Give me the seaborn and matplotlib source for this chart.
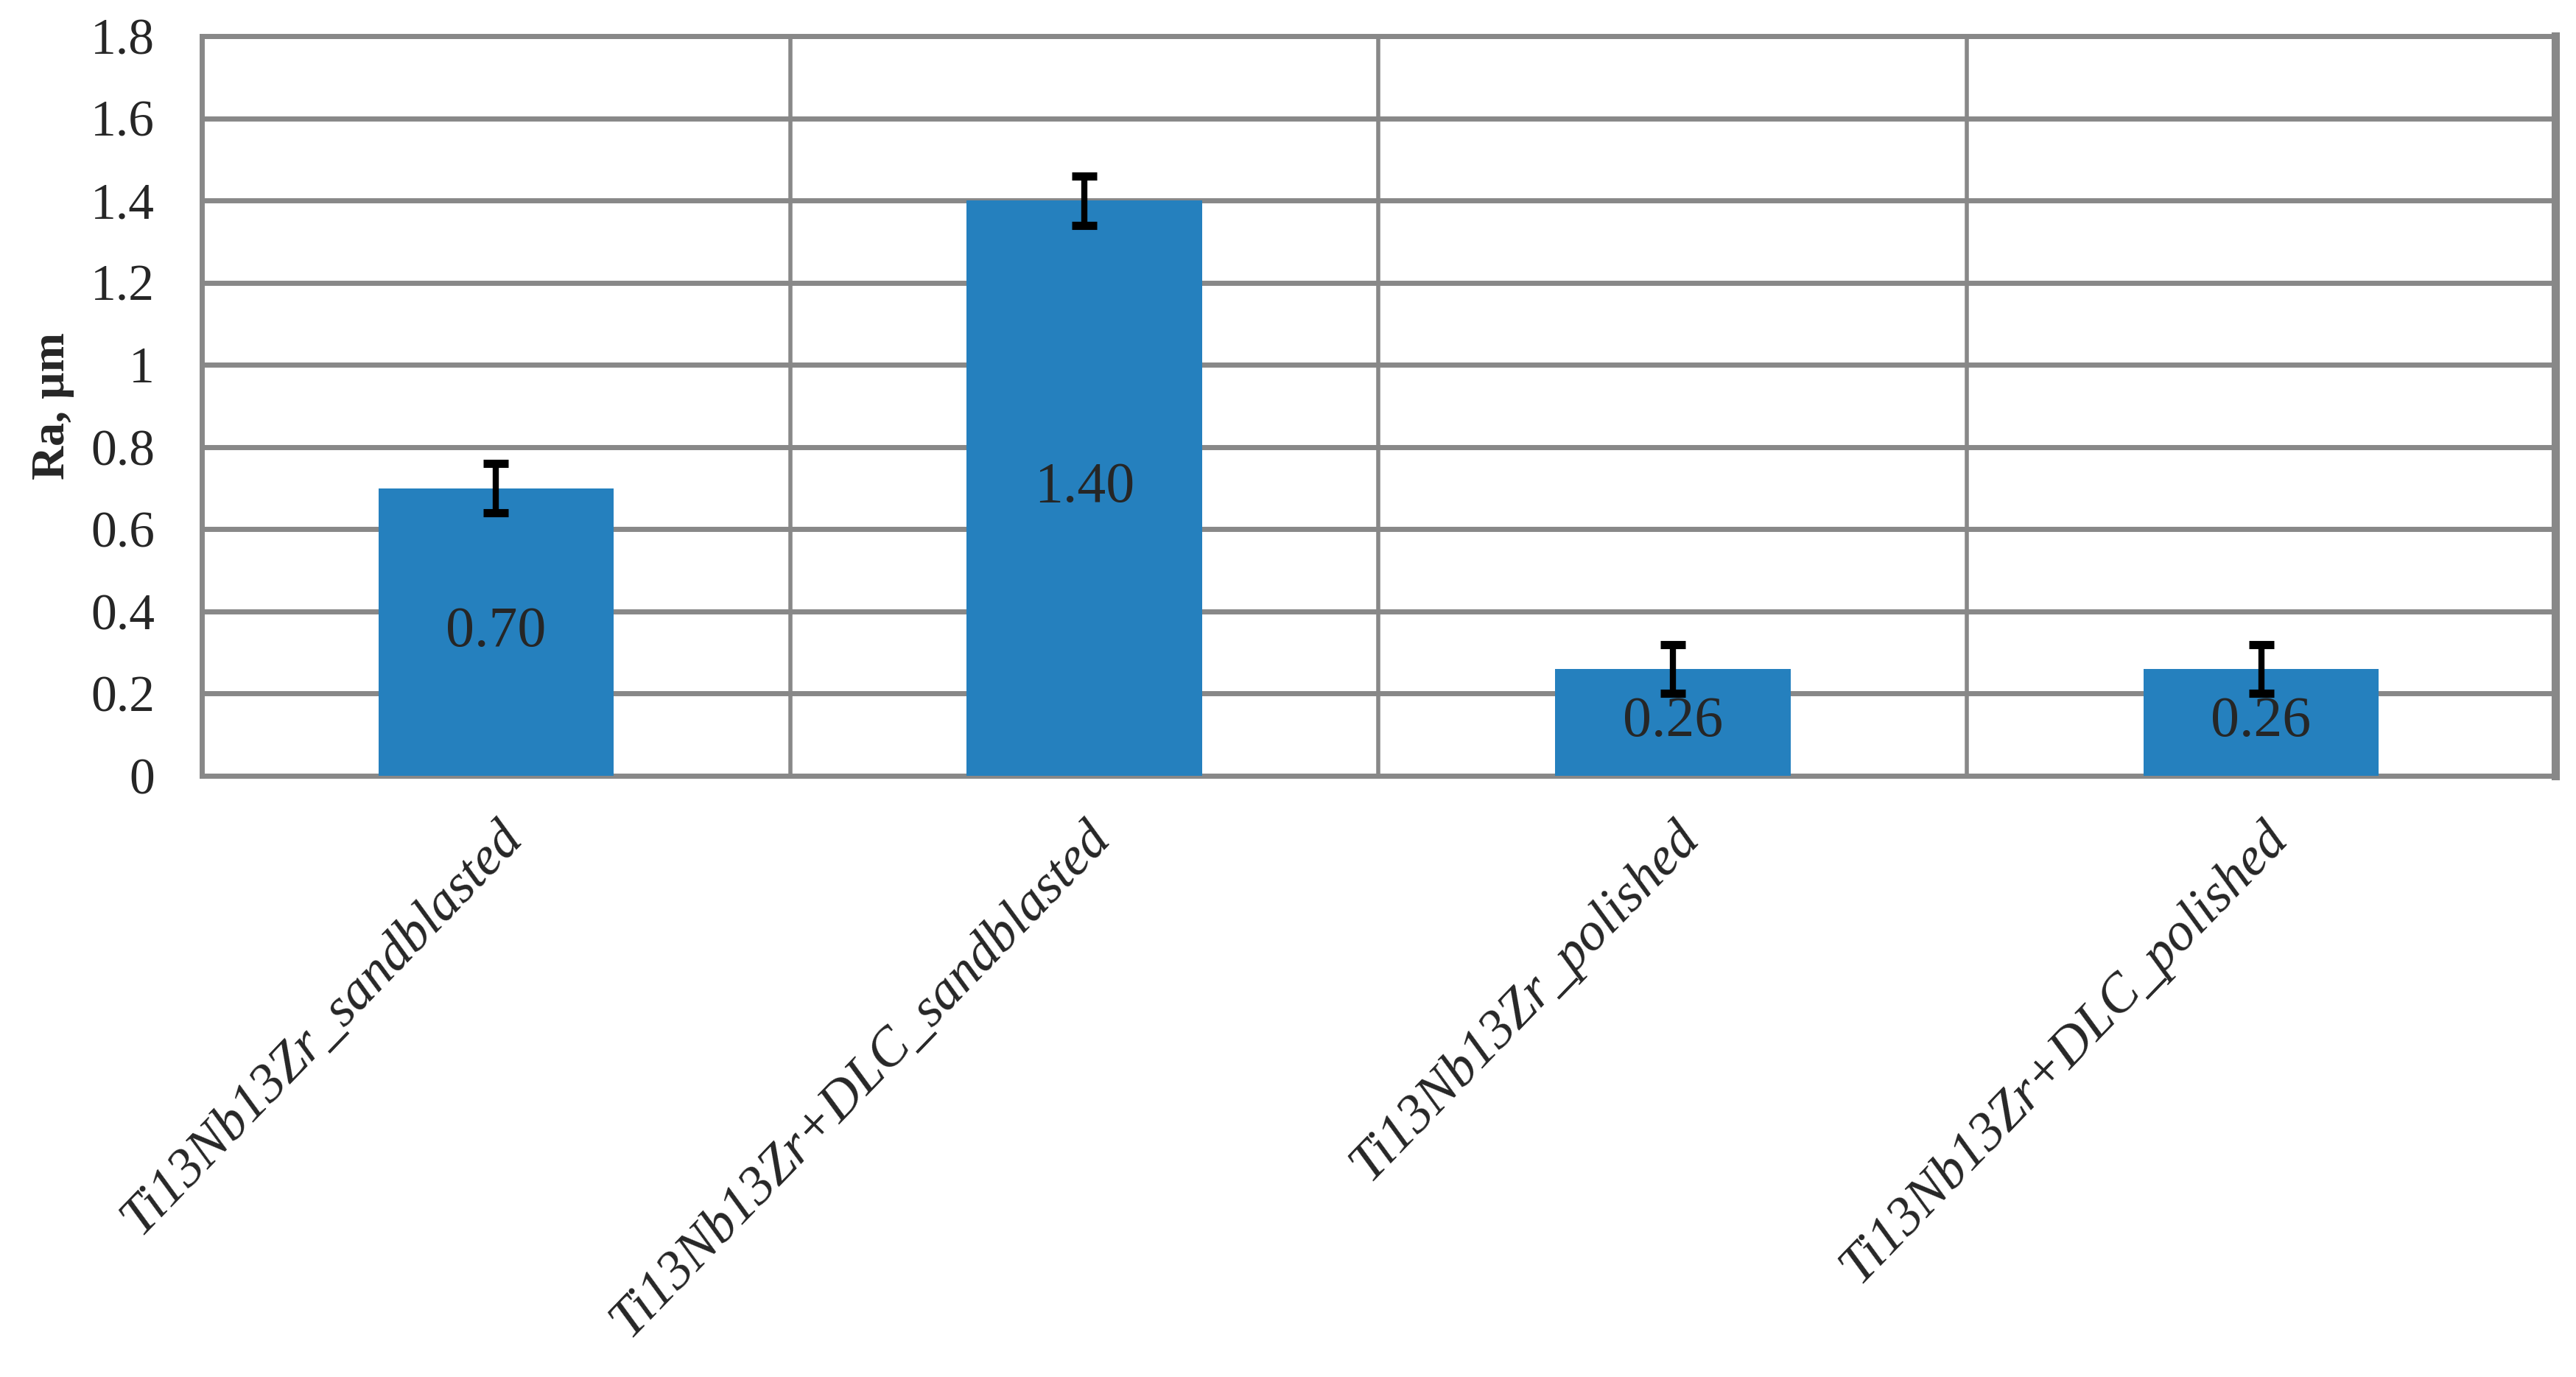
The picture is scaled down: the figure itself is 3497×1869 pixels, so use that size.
import pandas as pd
import numpy as np
import matplotlib
matplotlib.use("Agg")
import matplotlib.pyplot as plt
import seaborn as sns

# Data
samples = ["Ti13Nb13Zr_sandblasted", "Ti13Nb13Zr+DLC_sandblasted",
           "Ti13Nb13Zr_polished", "Ti13Nb13Zr+DLC_polished"]
ra = [0.70, 1.40, 0.26, 0.26]
ra_err = [0.06, 0.06, 0.06, 0.06]
labels = ["0.70", "1.40", "0.26", "0.26"]
yticks = [0, 0.2, 0.4, 0.6, 0.8, 1, 1.2, 1.4, 1.6, 1.8]

df = pd.DataFrame({"sample": samples, "ra": ra})

sns.set_style("white")
plt.rcParams["font.family"] = ["Liberation Serif", "DejaVu Serif"]

grid_col = "#888888"
fig = plt.figure(figsize=(17.49, 9.345), dpi=200)
ax = fig.add_axes([0.0783, 0.4366, 0.9134, 0.5372])

sns.barplot(data=df, x="sample", y="ra", color="#2580BE", saturation=1,
            width=0.4, errorbar=None, ax=ax, zorder=3, linewidth=0)
ax.errorbar(range(len(ra)), ra, yerr=ra_err, fmt="none", ecolor="black",
            elinewidth=3, capsize=6, capthick=4, zorder=4)

for i, (v, t) in enumerate(zip(ra, labels)):
    ax.text(i, v / 2, t, ha="center", va="center", fontsize=28, zorder=5)

ax.set_xlim(-0.5, len(ra) - 0.5)
ax.set_ylim(0, 1.8)
ax.set_yticks(yticks)
ax.set_yticklabels([f"{v:g}" for v in yticks], fontsize=25)

ax.set_xticks(np.arange(-0.5, len(ra), 1.0), minor=True)
ax.set_xticks(range(len(ra)))
ax.set_xticklabels(samples, rotation=46, ha="right", rotation_mode="anchor",
                   fontsize=26.5, fontstyle="italic")
ax.tick_params(axis="x", which="major", length=0, pad=18)
ax.tick_params(axis="x", which="minor", length=6.5, width=2.5, color=grid_col,
               direction="out")
ax.tick_params(axis="y", length=4, width=2.5, color=grid_col, pad=19)

ax.grid(axis="y", color=grid_col, linewidth=2.5, zorder=0)
ax.grid(axis="x", which="minor", color=grid_col, linewidth=2.0, zorder=0)
ax.set_axisbelow(True)

for side in ["left", "bottom", "top"]:
    ax.spines[side].set_color(grid_col)
    ax.spines[side].set_linewidth(2.5)
ax.spines["right"].set_color(grid_col)
ax.spines["right"].set_linewidth(4)

ax.set_xlabel("")
ax.set_ylabel("Ra, µm", fontsize=23, fontweight="bold", labelpad=8)

fig.savefig("out.png", dpi=200, facecolor="white")
